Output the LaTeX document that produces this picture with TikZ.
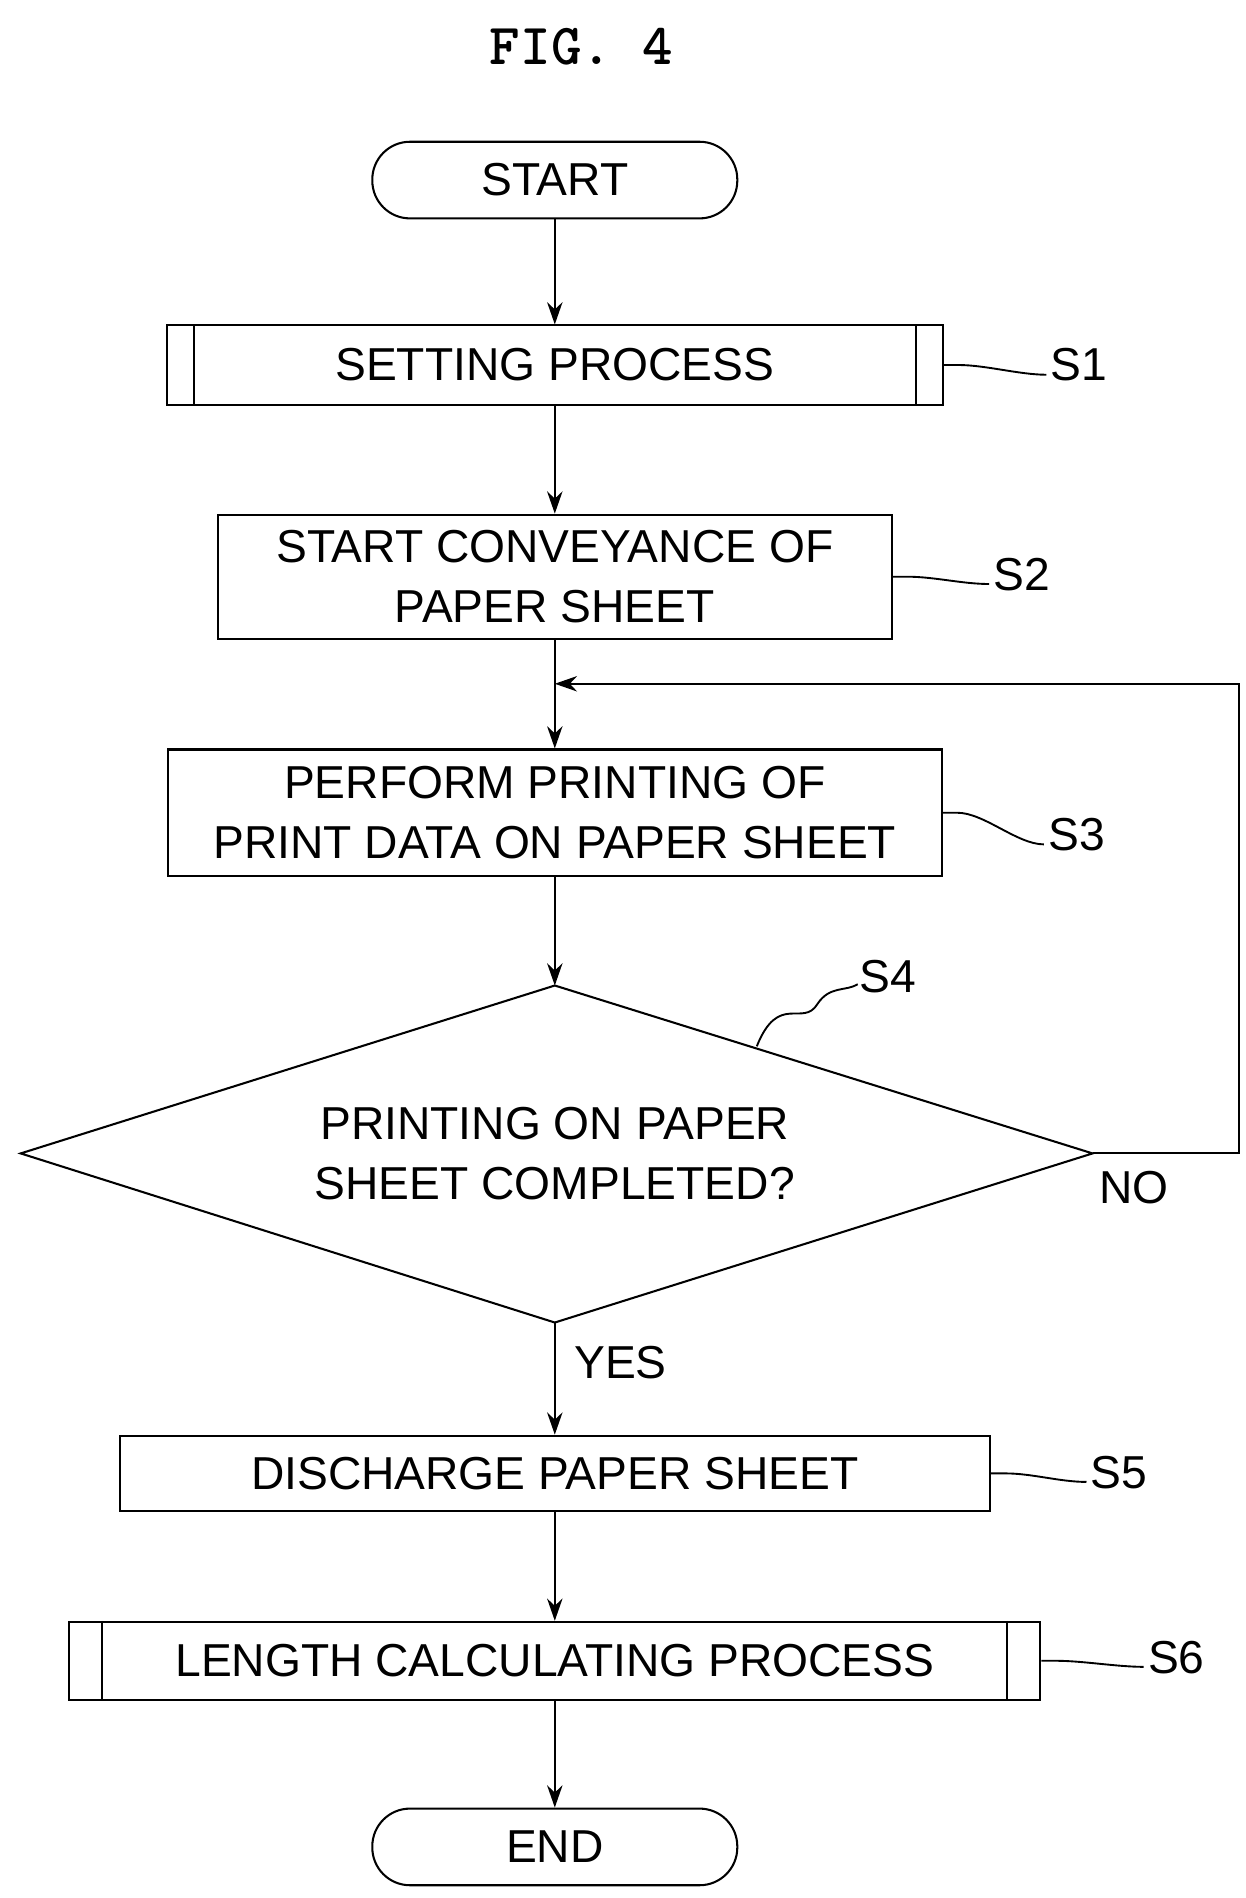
\documentclass[tikz,border=0pt]{standalone}
\usepackage{fontspec}
\setmainfont{Liberation Sans}
\usetikzlibrary{arrows.meta,calc}
\begin{document}
\begin{tikzpicture}[x=0.025cm,y=-0.025cm,
  box/.style={draw,line width=1.2pt,inner sep=0pt,align=center,font=\fontsize{27}{35}\selectfont},
  term/.style={box,rounded corners=31*0.025cm,minimum width=300*0.025cm,minimum height=63*0.025cm},
  lab/.style={font=\fontsize{27}{30}\selectfont,inner sep=1pt},
  arr/.style={line width=1.2pt,-{Stealth[length=13pt,width=9pt]}},
  wav/.style={line width=1.1pt}]
\useasboundingbox (0,0) rectangle (1024,1560);
\node[font=\fontsize{34}{40}\ttfamily\bfseries] (title) at (478,38) {FIG. 4};
\node[term] (start) at (456,148) {START};
\node[box,minimum width=638*0.025cm,minimum height=65*0.025cm] (s1) at (456,300) {SETTING PROCESS};
\draw[line width=1.2pt] ($(s1.north west)+(23,0)$) -- ($(s1.south west)+(23,0)$)
  ($(s1.north east)+(-23,0)$) -- ($(s1.south east)+(-23,0)$);
\node[box,minimum width=554*0.025cm,minimum height=102*0.025cm] (s2) at (456,474) {START CONVEYANCE OF\\PAPER SHEET};
\coordinate (j) at (456,562);
\node[box,minimum width=636*0.025cm,minimum height=104*0.025cm] (s3) at (456,668) {PERFORM PRINTING OF\\PRINT DATA ON PAPER SHEET};
\coordinate (dt) at (456,810); \coordinate (dl) at (17,948);
\coordinate (dr) at (898,948); \coordinate (db) at (456,1087);
\draw[line width=1.2pt] (dt) -- (dr) -- (db) -- (dl) -- cycle;
\node[align=center,font=\fontsize{27}{35}\selectfont] (d) at (456,948) {PRINTING ON PAPER\\SHEET COMPLETED?};
\node[box,minimum width=715*0.025cm,minimum height=62*0.025cm] (s5) at (456,1211) {DISCHARGE PAPER SHEET};
\node[box,minimum width=798*0.025cm,minimum height=64*0.025cm] (s6) at (456,1365) {LENGTH CALCULATING PROCESS};
\draw[line width=1.2pt] ($(s6.north west)+(28,0)$) -- ($(s6.south west)+(28,0)$)
  ($(s6.north east)+(-28,0)$) -- ($(s6.south east)+(-28,0)$);
\node[term] (end) at (456,1518) {END};
\draw[arr] (start) -- (s1);
\draw[arr] (s1) -- (s2);
\draw[line width=1.2pt] (s2.south) -- (j);
\draw[arr] (j) -- (s3);
\draw[arr] (s3) -- (dt);
\coordinate (c1) at (1018,948); \coordinate (c2) at (1018,562);
\draw[arr] (dr) -- (c1) -- (c2) -- (j);
\draw[arr] (db) -- (s5);
\draw[arr] (s5) -- (s6);
\draw[arr] (s6) -- (end);
\node[lab] (no) at (932,976) {NO};
\node[lab] (yes) at (510,1120) {YES};
\node[lab,anchor=west] (l1) at (862,300) {S1};
\node[lab,anchor=west] (l2) at (815,472) {S2};
\node[lab,anchor=west] (l3) at (860,686) {S3};
\node[lab,anchor=west] (l4) at (705,803) {S4};
\node[lab,anchor=west] (l5) at (895,1210) {S5};
\node[lab,anchor=west] (l6) at (942,1362) {S6};
\foreach \b/\l in {s1/l1,s2/l2,s3/l3,s5/l5,s6/l6}{
  \draw[wav] (\b.east) -- ++(12,0) .. controls +(22,0) and +(-22,0) .. ($(\l.west)+(-2,8)$);
}
\coordinate (w4) at (622,860);
\draw[wav] (w4) .. controls (640,815) and (660,845) .. (672,825) .. controls (682,810) and (695,815) .. ($(l4.west)+(0,6)$);
\end{tikzpicture}
\end{document}
